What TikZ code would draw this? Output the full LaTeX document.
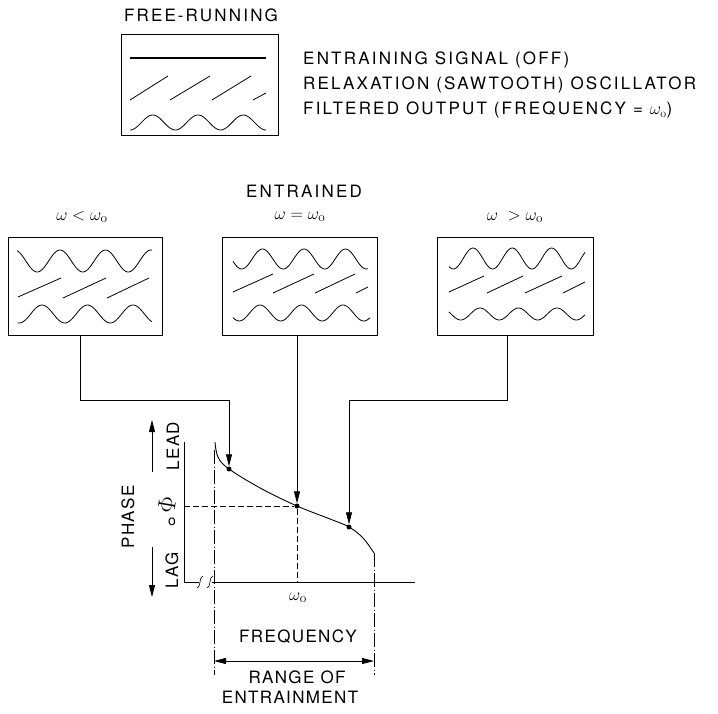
\documentclass[tikz,border=0pt]{standalone}
\usepackage{fontspec}
\newfontfamily\lettering[LetterSpace=8]{TeX Gyre Heros}
\newfontfamily\letteringwide[LetterSpace=13]{TeX Gyre Heros}
\usetikzlibrary{arrows.meta}
\begin{document}
\begin{tikzpicture}[x=1pt,y=-1pt,
  lbl/.style={font=\lettering\fontsize{17}{20}\selectfont, inner sep=0pt},
  lblw/.style={font=\letteringwide\fontsize{17}{20}\selectfont, inner sep=0pt},
  mth/.style={font=\fontsize{19}{22}\selectfont, inner sep=0pt},
  panel/.style={draw, line width=1.1pt, inner sep=0pt, anchor=north west},
  wave/.style={line width=0.8pt},
  conn/.style={line width=0.8pt},
  tip/.style={-{Triangle[length=12pt,width=6pt]}},
  dotmark/.style={circle, fill, inner sep=0pt, minimum size=5pt},
  dashline/.style={line width=0.7pt, dash pattern=on 6pt off 3pt},
  dashdot/.style={line width=0.7pt, dash pattern=on 14pt off 2.5pt on 1pt off 2.5pt},
]
\useasboundingbox (0,0) rectangle (718,713);

% ---------- free-running panel ----------
\node[lblw] (fr) at (201,15) {FREE\kern2pt-\kern2pt RUNNING};
\node[panel, minimum width=157pt, minimum height=101pt] (b0) at (121,34) {};
\draw[line width=1.2pt] (130,58) -- (266,58);
\draw[wave] (130,100) -- (168,76) (170,100) -- (210,76) (212,100) -- (251,76) (253,100) -- (266,93);
\draw[wave] plot[domain=130:266, samples=90, smooth] (\x, {122.5 - 7.5*cos((\x-152.7)/45.3*360)});
\node[lblw, anchor=west] (t1) at (303,60) {ENTRAINING SIGNAL (OFF)};
\node[lblw, anchor=west] (t2) at (303,85) {RELAXATION (SAWTOOTH) OSCILLATOR};
\node[lblw, anchor=west] (t3) at (303,110) {FILTERED OUTPUT (FREQUENCY = $\omega_{\mathrm{o}}$)};

% ---------- three panels ----------
\node[mth] (l1) at (82,217) {$\omega<\omega_{\mathrm{o}}$};
\node[lblw] (ent) at (304,191) {ENTRAINED};
\node[mth] (l2) at (300,217) {$\omega=\omega_{\mathrm{o}}$};
\node[mth] (l3) at (515,217) {$\omega\;>\omega_{\mathrm{o}}$};

\node[panel, minimum width=154pt, minimum height=98pt] (b1) at (8,237) {};
\node[panel, minimum width=155pt, minimum height=98pt] (b2) at (222,237) {};
\node[panel, minimum width=156pt, minimum height=98pt] (b3) at (437,237) {};

% panel 1 (omega < omega0)
\draw[wave] plot[domain=17:152, samples=90, smooth] (\x, {261 - 11*cos((\x-60)/45.5*360)});
\draw[wave] (18,297) -- (61,278) (63,298) -- (106,278) (107,298) -- (149,278);
\draw[wave] plot[domain=18:152, samples=90, smooth] (\x, {314 - 9*cos((\x-42)/45.5*360)});
% panel 2 (omega = omega0)
\draw[wave] plot[domain=233:368, samples=90, smooth] (\x, {259 - 10*cos((\x-262.5)/41.5*360)});
\draw[wave] (233,292) -- (273,274) (273,293) -- (314,274) (315,293) -- (355,274) (356,293) -- (368,287);
\draw[wave] plot[domain=233:370, samples=90, smooth] (\x, {313 - 8*cos((\x-260)/41.5*360)});
% panel 3 (omega > omega0)
\draw[wave] plot[domain=449:585, samples=90, smooth] (\x, {258.5 - 10.5*cos((\x-473)/39.3*360)});
\draw[wave] (449,292) -- (484,276) (487,293) -- (523,276) (525,293) -- (562,276) (563,293) -- (585,282);
\draw[wave] plot[domain=449:585, samples=90, smooth] (\x, {314 - 6*cos((\x-480)/38.5*360)});

% ---------- graph ----------
\coordinate (ytop) at (184,442);
\coordinate (orig) at (184,582);
\coordinate (xb1) at (199,582);
\coordinate (xb2) at (212,582);
\coordinate (xend) at (415,582);
\draw[conn] (ytop) -- (orig) -- (xb1);
\draw[conn] (xb2) -- (xend);
\draw[line width=0.6pt] (197,588) .. controls (201,588) and (199,576) .. (203,576);
\draw[line width=0.6pt] (207,588) .. controls (211,588) and (209,576) .. (213,576);

\node[dotmark] (d1) at (229,469) {};
\node[dotmark] (d2) at (297,506) {};
\node[dotmark] (d3) at (349,527) {};

\draw[line width=0.9pt] plot[smooth, tension=0.6] coordinates {(215,442) (218,457) (229,469) (262,489) (297,506) (330,519) (349,527) (363,538) (374,553)};

% dashed phi0 / omega0 lines
\draw[dashline] (orig |- d2) -- (d2) -- (d2 |- orig);
% dash-dot range lines
\coordinate (rl1) at (214,450);
\coordinate (rl2) at (214,675);
\coordinate (rr1) at (374,553);
\coordinate (rr2) at (374,675);
\draw[dashdot] (rl1) -- (rl2);
\draw[dashdot] (rr1) -- (rr2);
\coordinate (ra) at (214,661);
\coordinate (rb) at (374,661);
\draw[conn, {Triangle[length=12pt,width=6pt]}-{Triangle[length=12pt,width=6pt]}] (ra) -- (rb);

% connectors from panels
\coordinate (k1) at (80,400);
\coordinate (k3) at (507,400);
\draw[conn, tip] (k1 |- b1.south) -- (k1) -- (k1 -| d1) -- (d1);
\draw[conn, tip] (d2 |- b2.south) -- (d2);
\draw[conn, tip] (k3 |- b3.south) -- (k3) -- (k3 -| d3) -- (d3);

% axis labels
\coordinate (la1) at (152,472);
\coordinate (la2) at (152,420);
\coordinate (lg1) at (152,547);
\coordinate (lg2) at (152,597);
\draw[conn, tip] (la1) -- (la2);
\draw[conn, tip] (lg1) -- (lg2);
\node[lbl, rotate=90] (lead) at (173,446) {LEAD};
\node[lbl, rotate=90] (phase) at (128,517) {PHASE};
\node[lbl, rotate=90] (lag) at (172,570) {LAG};
\node[inner sep=0pt, font=\fontsize{26}{26}\selectfont] (phi) at (167,505) {\rotatebox{80}{$\Phi$}};
\node[inner sep=0pt, font=\lettering\fontsize{14}{14}\selectfont] (phisub) at (172,522) {o};

\node[mth] (w0) at (298,598) {$\omega_{\mathrm{o}}$};
\node[lbl] (freq) at (298,637) {FREQUENCY};
\node[lbl] (rng) at (297,677) {RANGE OF};
\node[lbl] (entr) at (290,697) {ENTRAINMENT};
\end{tikzpicture}
\end{document}
